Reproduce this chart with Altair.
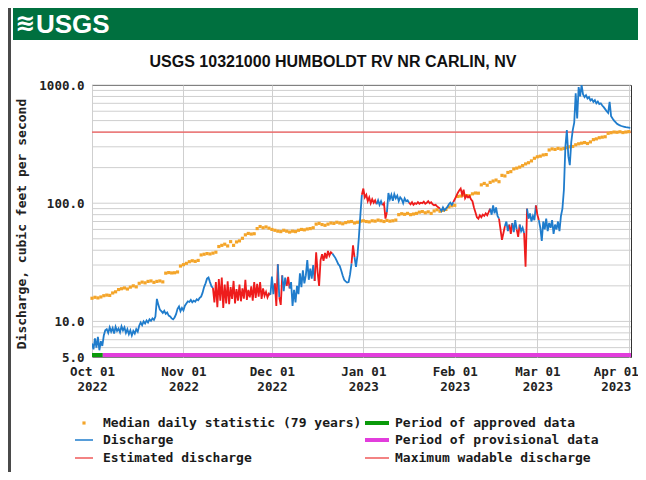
import altair as alt
import numpy as np
import pandas as pd

# ---------------- text ----------------
title_text = "USGS 10321000 HUMBOLDT RV NR CARLIN, NV"
y_title = "Discharge, cubic feet per second"
legend_left = ["Median daily statistic (79 years)", "Discharge", "Estimated discharge"]
legend_right = ["Period of approved data", "Period of provisional data", "Maximum wadable discharge"]

# ---------------- data ----------------
# discharge, every 12 hours starting 2022-10-01 00:00 (cfs)
discharge = [
    6.5, 5.8, 7.2, 6.0, 7.4, 5.7, 6.8, 6.2, 7.6, 8.4,
    8.6, 8.0, 8.9, 8.2, 8.8, 7.9, 9.0, 8.3, 8.7, 8.1,
    9.1, 8.4, 8.9, 8.0, 8.6, 7.8, 8.4, 7.6, 8.3, 7.9,
    8.6, 8.2, 9.2, 9.8, 9.3, 10.0, 9.6, 10.2, 9.8, 10.4,
    10.1, 10.6, 10.3, 11.0, 15.5, 13.8, 12.6, 12.2, 11.8, 12.3,
    11.6, 11.9, 11.2, 11.0, 10.6, 10.4, 10.8, 11.5, 12.8, 13.4,
    12.2, 13.0, 12.4, 13.6, 14.2, 14.8, 14.6, 15.2, 14.5, 15.0,
    14.7, 15.4, 15.1, 15.8, 16.2, 17.5, 19.5, 21.0, 23.0, 23.5,
    21.5, 19.8, 19.2, 14.5, 21.5, 13.2, 22.8, 15.0, 23.5, 13.0,
    20.5, 14.2, 21.8, 14.0, 19.5, 15.5, 22.0, 14.2, 18.8, 15.0,
    20.5, 14.8, 19.0, 15.6, 22.5, 15.2, 18.5, 16.0, 19.8, 15.0,
    21.5, 15.8, 20.8, 16.2, 21.5, 15.5, 19.0, 16.5, 17.8, 16.0,
    17.2, 16.8, 24.0, 17.0, 21.0, 13.5, 30.5, 16.0, 13.8, 24.5,
    18.0, 23.5, 20.0, 23.8, 19.0, 21.5, 13.5, 18.5, 14.5, 20.0,
    17.0, 25.5, 19.5, 27.0, 21.0, 24.5, 33.0, 22.5, 28.0, 23.0,
    30.0, 22.0, 38.5, 26.0, 20.0, 33.0, 37.0, 32.5, 38.0, 34.0,
    39.5, 36.0, 38.5, 37.5, 36.0, 34.5, 32.5, 30.5, 29.5, 27.0,
    24.5, 22.5, 21.8, 21.3, 21.5, 25.0, 31.0, 44.0, 35.0, 29.0,
    36.0, 52.0, 80.0, 118.0, 133.0, 112.0, 118.0, 104.0, 112.0, 100.0,
    108.0, 101.0, 106.0, 98.0, 106.0, 97.0, 104.0, 96.0, 100.0, 74.0,
    84.0, 122.0, 108.0, 118.0, 105.0, 119.0, 110.0, 116.0, 104.0, 112.0,
    108.0, 100.0, 110.0, 104.0, 106.0, 101.0, 98.0, 102.0, 97.0, 100.0,
    98.5, 102.0, 99.0, 101.0, 100.0, 103.0, 99.0, 101.0, 104.0, 100.0,
    102.0, 98.0, 96.0, 97.0, 94.0, 92.0, 90.0, 86.0, 92.0, 87.0,
    90.0, 93.0, 98.0, 101.0, 97.0, 102.0, 108.0, 115.0, 122.0, 128.0,
    133.0, 118.0, 130.0, 110.0, 116.0, 112.0, 115.0, 108.0, 104.0, 92.0,
    84.0, 76.0, 74.0, 79.0, 76.0, 80.0, 78.0, 82.0, 79.0, 84.0,
    90.0, 80.0, 96.0, 82.0, 92.0, 78.0, 74.0, 60.0, 49.0, 56.0,
    64.0, 70.0, 58.0, 66.0, 55.0, 68.0, 57.0, 72.0, 60.0, 52.0,
    66.0, 58.0, 62.0, 56.0, 29.0, 90.0, 74.0, 82.0, 70.0, 78.0,
    72.0, 96.0, 80.0, 72.0, 62.0, 48.0, 70.0, 60.0, 74.0, 58.0,
    68.0, 62.0, 72.0, 55.0, 66.0, 60.0, 70.0, 58.0, 78.0, 90.0,
    130.0, 300.0, 416.0, 250.0, 210.0, 330.0, 416.0, 480.0, 850.0, 520.0,
    960.0, 800.0, 1000.0, 830.0, 790.0, 820.0, 770.0, 790.0, 740.0, 760.0,
    720.0, 745.0, 700.0, 725.0, 690.0, 700.0, 670.0, 650.0, 625.0, 600.0,
    580.0, 720.0, 545.0, 520.0, 500.0, 485.0, 470.0, 462.0, 455.0, 450.0,
    446.0, 443.0, 440.0, 438.0, 436.0, 434.0,
]

# estimated-discharge periods, in days after 2022-10-01
estimated_periods = [
    (41.0, 60.5), (62.0, 63.0), (63.5, 64.5), (66.0, 67.0), (75.5, 81.5),
    (88.0, 89.0), (91.5, 96.5), (98.5, 100.0), (107.5, 118.0), (122.5, 135.0),
    (138.0, 140.0), (141.5, 142.5), (144.0, 145.0), (146.5, 147.5), (150.5, 151.5),
]

# median daily statistic (79 years), one per day from 2022-10-01
median_daily = [
    15.7, 16.0, 15.8, 16.1,
    16.5, 16.7, 16.6,
    17.4, 17.8,
    18.6, 18.9, 19.2, 18.8,
    19.5, 20.0, 19.6,
    21.0, 21.5, 21.2, 21.8, 22.0, 21.4, 21.8, 22.0, 21.6,
    25.6, 25.9, 25.7, 25.8, 26.2,
    29.4, 30.2, 31.0,
    32.0, 32.6, 32.2, 32.8,
    36.5, 37.0, 37.5, 37.2, 37.8, 38.5,
    43.0, 44.0, 45.0, 43.5,
    47.3, 44.0, 47.0,
    48.0, 50.5,
    54.0, 55.5, 54.8, 55.2,
    61.0, 63.5, 62.0, 63.0, 61.5,
    60.0, 59.0, 58.0, 57.5, 59.0, 58.0,
    57.0, 58.0, 57.5, 59.0, 60.0, 59.5, 60.5, 61.0, 62.0,
    66.5, 67.5, 66.0, 65.0, 66.5,
    68.0, 67.5, 69.0, 68.0, 67.0, 68.5,
    69.5, 70.0, 68.0, 69.0, 70.5, 71.0, 70.0, 69.5,
    71.0, 70.5, 72.0, 71.0, 70.0, 71.5, 70.5, 71.0, 72.0,
    80.0, 81.5, 80.5, 82.0, 80.0, 81.0, 82.0,
    84.0, 85.0, 83.0, 84.5, 82.0,
    86.0, 88.0, 85.5, 87.0, 88.5,
    93.0, 95.0, 96.0,
    114.0, 115.0, 117.0, 116.0, 115.5,
    120.0, 122.0, 121.5,
    143.0, 147.0, 142.0,
    150.0, 154.0, 157.0, 152.0,
    172.0, 170.0, 182.0,
    185.0, 195.0, 198.0, 202.0, 208.0,
    215.0, 220.0, 228.0, 240.0, 247.0,
    250.0, 256.0, 258.0,
    282.0, 288.0, 285.0, 291.0, 287.0, 290.0,
    295.0, 300.0, 302.0,
    312.0, 318.0, 322.0, 326.0, 320.0, 330.0,
    345.0, 350.0, 358.0, 362.0, 365.0,
    390.0, 395.0, 400.0, 398.0, 402.0, 396.0, 400.0, 403.0,
]

max_wadable = 400.0

period_kinds = ["approved", "provisional"]
period_starts = ["2022-10-01T00:00:00", "2022-10-04T16:00:00"]
period_ends = ["2022-10-04T16:00:00", "2023-04-01T18:00:00"]

month_ticks = [(2022, 10), (2022, 11), (2022, 12), (2023, 1), (2023, 2), (2023, 3), (2023, 4)]
y_label_values = [5, 10, 100, 1000]
y_grid_values = [5, 6, 7, 8, 9, 10, 20, 30, 40, 50, 60, 70, 80, 90,
                 100, 200, 300, 400, 500, 600, 700, 800, 900, 1000]

# ---------------- styles ----------------
MONO = "DejaVu Sans Mono"
SANS = "Liberation Sans, Arial, sans-serif"
BLUE = "#1f7ccc"
RED = "#ee1c1c"
WAD = "#ef5a5a"
ORANGE = "#f4a52a"
GREEN = "#0a9a0a"
MAGENTA = "#e23ddc"
GRID = "#cfcfcf"
BANNER = "#00703f"
period_colors = {"approved": GREEN, "provisional": MAGENTA}

W, H = 539, 272

# ---------------- frames ----------------
start = pd.Timestamp("2022-10-01")
n = len(discharge)
days = np.arange(n) * 0.5
times = [(start + pd.Timedelta(hours=12 * i)).strftime("%Y-%m-%dT%H:%M:%S") for i in range(n)]
flags = [any(a <= d < b for a, b in estimated_periods) for d in days]

rows = []
seg = 0
i = 0
while i < n - 1:
    f = flags[i]
    j = i
    while j < n - 1 and flags[j] == f:
        j += 1
    for k in range(i, j + 1):
        rows.append({"t": times[k], "q": discharge[k], "seg": seg,
                     "kind": "Estimated discharge" if f else "Discharge"})
    seg += 1
    i = j
q_df = pd.DataFrame(rows)

med_df = pd.DataFrame({
    "t": [(start + pd.Timedelta(days=d)).strftime("%Y-%m-%dT%H:%M:%S") for d in range(len(median_daily))],
    "q": median_daily,
})
grid_df = pd.DataFrame({"q": y_grid_values})
wad_df = pd.DataFrame({"q": [max_wadable]})
per_df = pd.DataFrame({"kind": period_kinds, "s": period_starts, "e": period_ends})

x_scale = alt.Scale(domain=[alt.DateTime(year=2022, month=10, date=1),
                            alt.DateTime(year=2023, month=4, date=1, hours=18)])
y_scale = alt.Scale(type="log", domain=[5, 1000], nice=False)

last_tick_test = "datum.value >= time(datetime(2023, 2, 15))"
x_axis = alt.Axis(
    values=[alt.DateTime(year=y, month=m, date=1) for y, m in month_ticks],
    labelExpr="[timeFormat(datum.value, '%b %d'), timeFormat(datum.value, '%Y')]",
    grid=True, gridColor=GRID, gridWidth=1, ticks=False, domain=False,
    labelFont=MONO, labelFontSize=12.5, labelFontWeight="bold", labelColor="#222",
    labelPadding=8, labelLineHeight=15, labelBaseline="top", title=None,
    labelOverlap=False, labelFlush=False, labelBound=False,
    labelOffset={"condition": {"test": last_tick_test, "value": -13}, "value": 0},
)
y_axis = alt.Axis(
    values=y_label_values, format=".1f", grid=False, ticks=False, domain=False,
    labelFont=MONO, labelFontSize=12.5, labelFontWeight="bold", labelColor="#222",
    labelPadding=8, title=None,
)

grid_layer = alt.Chart(grid_df).mark_rule(color=GRID, strokeWidth=1).encode(
    y=alt.Y("q:Q", scale=y_scale, axis=y_axis)
)
wad_layer = alt.Chart(wad_df).mark_rule(color=WAD, strokeWidth=1.3).encode(
    y=alt.Y("q:Q", scale=y_scale)
)
med_layer = alt.Chart(med_df).mark_point(filled=True, size=10, color=ORANGE, opacity=1, shape="square").encode(
    x=alt.X("t:T", scale=x_scale, axis=x_axis),
    y=alt.Y("q:Q", scale=y_scale),
)
q_layer = alt.Chart(q_df).mark_line(strokeWidth=1.8, clip=True, interpolate="linear").encode(
    x=alt.X("t:T", scale=x_scale),
    y=alt.Y("q:Q", scale=y_scale),
    color=alt.Color("kind:N", scale=alt.Scale(domain=["Discharge", "Estimated discharge"], range=[BLUE, RED]), legend=None),
    detail="seg:N",
    order="t:T",
)
per_layers = [
    alt.Chart(per_df).transform_filter(alt.datum.kind == k).mark_rule(
        strokeWidth=4, yOffset=-2, color=period_colors[k]).encode(
        x=alt.X("s:T", scale=x_scale),
        x2="e:T",
        y=alt.datum(5),
    )
    for k in period_kinds
]

one = pd.DataFrame({"a": [0]})


def box(x1, x2, y1, y2, color):
    return alt.Chart(one).mark_rect(color=color).encode(
        x=alt.value(x1), x2=alt.value(x2), y=alt.value(y1), y2=alt.value(y2))


def txt(s, x, y, **kw):
    return alt.Chart(one).mark_text(**kw).encode(x=alt.value(x), y=alt.value(y), text=alt.value(s))


def hline(x1, x2, y, color, width):
    return alt.Chart(one).mark_rule(color=color, strokeWidth=width).encode(
        x=alt.value(x1), x2=alt.value(x2), y=alt.value(y))


deco = [
    box(-84, -81, -77, 387, "#4a4a4a"),
    box(-79, 546, -77, -45, BANNER),
    txt("\u224b", -67, -61, font="DejaVu Sans", fontSize=24, fontWeight="bold", color="white",
        align="center", baseline="middle"),
    txt("USGS", -56, -60, font=SANS, fontSize=26, fontWeight="bold", color="white",
        align="left", baseline="middle"),
    txt(title_text, 241, -23, font=SANS, fontSize=16, fontWeight="bold", color="#111",
        align="center", baseline="middle"),
    txt(y_title, -70, 139, font=MONO, fontSize=13, fontWeight="bold", color="#222",
        angle=270, align="center", baseline="middle"),
]

leg_rows = [338, 355, 373]
legend = []
legend.append(alt.Chart(one).mark_point(filled=True, size=10, shape="square", color=ORANGE, opacity=1).encode(
    x=alt.value(-8), y=alt.value(leg_rows[0])))
legend.append(hline(-17, 1, leg_rows[1], BLUE, 1.5))
legend.append(hline(-17, 1, leg_rows[2], WAD, 1.5))
legend.append(hline(273, 297, leg_rows[0], GREEN, 4))
legend.append(hline(273, 297, leg_rows[1], MAGENTA, 4))
legend.append(hline(273, 297, leg_rows[2], WAD, 1.5))
for s, yy in zip(legend_left, leg_rows):
    legend.append(txt(s, 11, yy, font=MONO, fontSize=13, fontWeight="bold", color="#1a1a1a",
                      align="left", baseline="middle"))
for s, yy in zip(legend_right, leg_rows):
    legend.append(txt(s, 303, yy, font=MONO, fontSize=13, fontWeight="bold", color="#1a1a1a",
                      align="left", baseline="middle"))

chart = alt.layer(
    grid_layer, wad_layer, med_layer, q_layer, *per_layers, *deco, *legend
).properties(
    width=W, height=H,
    autosize=alt.AutoSizeParams(type="none"),
    padding={"left": 84, "top": 77, "right": 7, "bottom": 115},
    background="white",
).configure_view(stroke="#333", strokeWidth=1)

chart.save("out.html", embed_options={"renderer": "svg", "actions": False})
